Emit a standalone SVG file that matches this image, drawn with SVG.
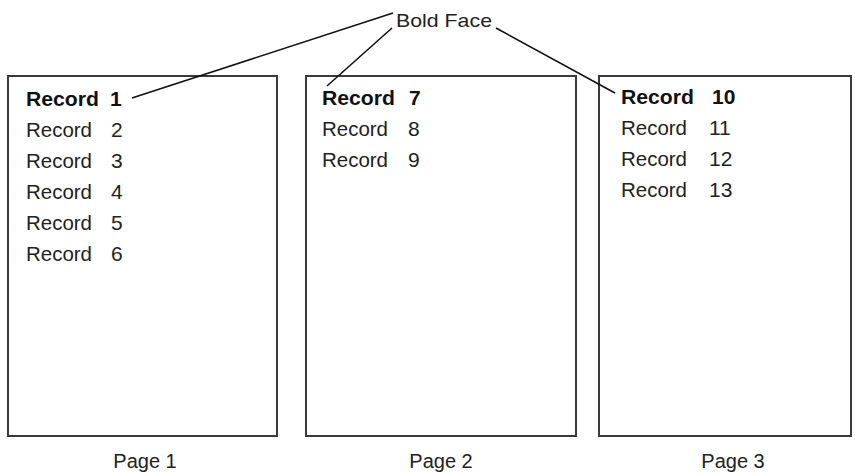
<svg xmlns="http://www.w3.org/2000/svg" width="856" height="474" viewBox="0 0 856 474">
<style>
.page{fill:#fff;stroke:#3a3a3a;stroke-width:2}
.t{font-family:"Liberation Sans",Arial,sans-serif;font-size:21px;fill:#222}
.b{font-weight:bold;fill:#111}
.lbl{font-family:"Liberation Sans",Arial,sans-serif;font-size:20px;fill:#222;text-anchor:middle}
.c{stroke:#111;stroke-width:1.6;fill:none}
</style>
<rect width="856" height="474" fill="#fff"/>
<g id="page1">
<rect class="page" x="8" y="76" width="269" height="360"/>
<text class="t b" x="26" y="106" textLength="73" lengthAdjust="spacingAndGlyphs">Record</text><text class="t b" x="110" y="106">1</text>
<text class="t" x="26" y="137" textLength="66" lengthAdjust="spacingAndGlyphs">Record</text><text class="t" x="111" y="137">2</text>
<text class="t" x="26" y="168" textLength="66" lengthAdjust="spacingAndGlyphs">Record</text><text class="t" x="111" y="168">3</text>
<text class="t" x="26" y="199" textLength="66" lengthAdjust="spacingAndGlyphs">Record</text><text class="t" x="111" y="199">4</text>
<text class="t" x="26" y="230" textLength="66" lengthAdjust="spacingAndGlyphs">Record</text><text class="t" x="111" y="230">5</text>
<text class="t" x="26" y="261" textLength="66" lengthAdjust="spacingAndGlyphs">Record</text><text class="t" x="111" y="261">6</text>
<text class="lbl" x="145" y="468">Page 1</text>
</g>
<g id="page2">
<rect class="page" x="306" y="76" width="270" height="360"/>
<text class="t b" x="322" y="105" textLength="73" lengthAdjust="spacingAndGlyphs">Record</text><text class="t b" x="409" y="105">7</text>
<text class="t" x="322" y="136" textLength="66" lengthAdjust="spacingAndGlyphs">Record</text><text class="t" x="408" y="136">8</text>
<text class="t" x="322" y="167" textLength="66" lengthAdjust="spacingAndGlyphs">Record</text><text class="t" x="408" y="167">9</text>
<text class="lbl" x="441" y="468">Page 2</text>
</g>
<g id="page3">
<rect class="page" x="599" y="76" width="252" height="360"/>
<text class="t b" x="621" y="104" textLength="73" lengthAdjust="spacingAndGlyphs">Record</text><text class="t b" x="712" y="104">10</text>
<text class="t" x="621" y="135" textLength="66" lengthAdjust="spacingAndGlyphs">Record</text><text class="t" x="709" y="135">11</text>
<text class="t" x="621" y="166" textLength="66" lengthAdjust="spacingAndGlyphs">Record</text><text class="t" x="709" y="166">12</text>
<text class="t" x="621" y="197" textLength="66" lengthAdjust="spacingAndGlyphs">Record</text><text class="t" x="709" y="197">13</text>
<text class="lbl" x="733" y="468">Page 3</text>
</g>
<g id="boldface">
<text class="t" x="396" y="27" textLength="96" lengthAdjust="spacingAndGlyphs" style="font-size:19px">Bold Face</text>
</g>
<g id="connectors">
<line class="c" x1="393" y1="13" x2="132" y2="98"/>
<line class="c" x1="392" y1="28" x2="327" y2="86"/>
<line class="c" x1="496" y1="28" x2="615" y2="93"/>
</g>
</svg>
